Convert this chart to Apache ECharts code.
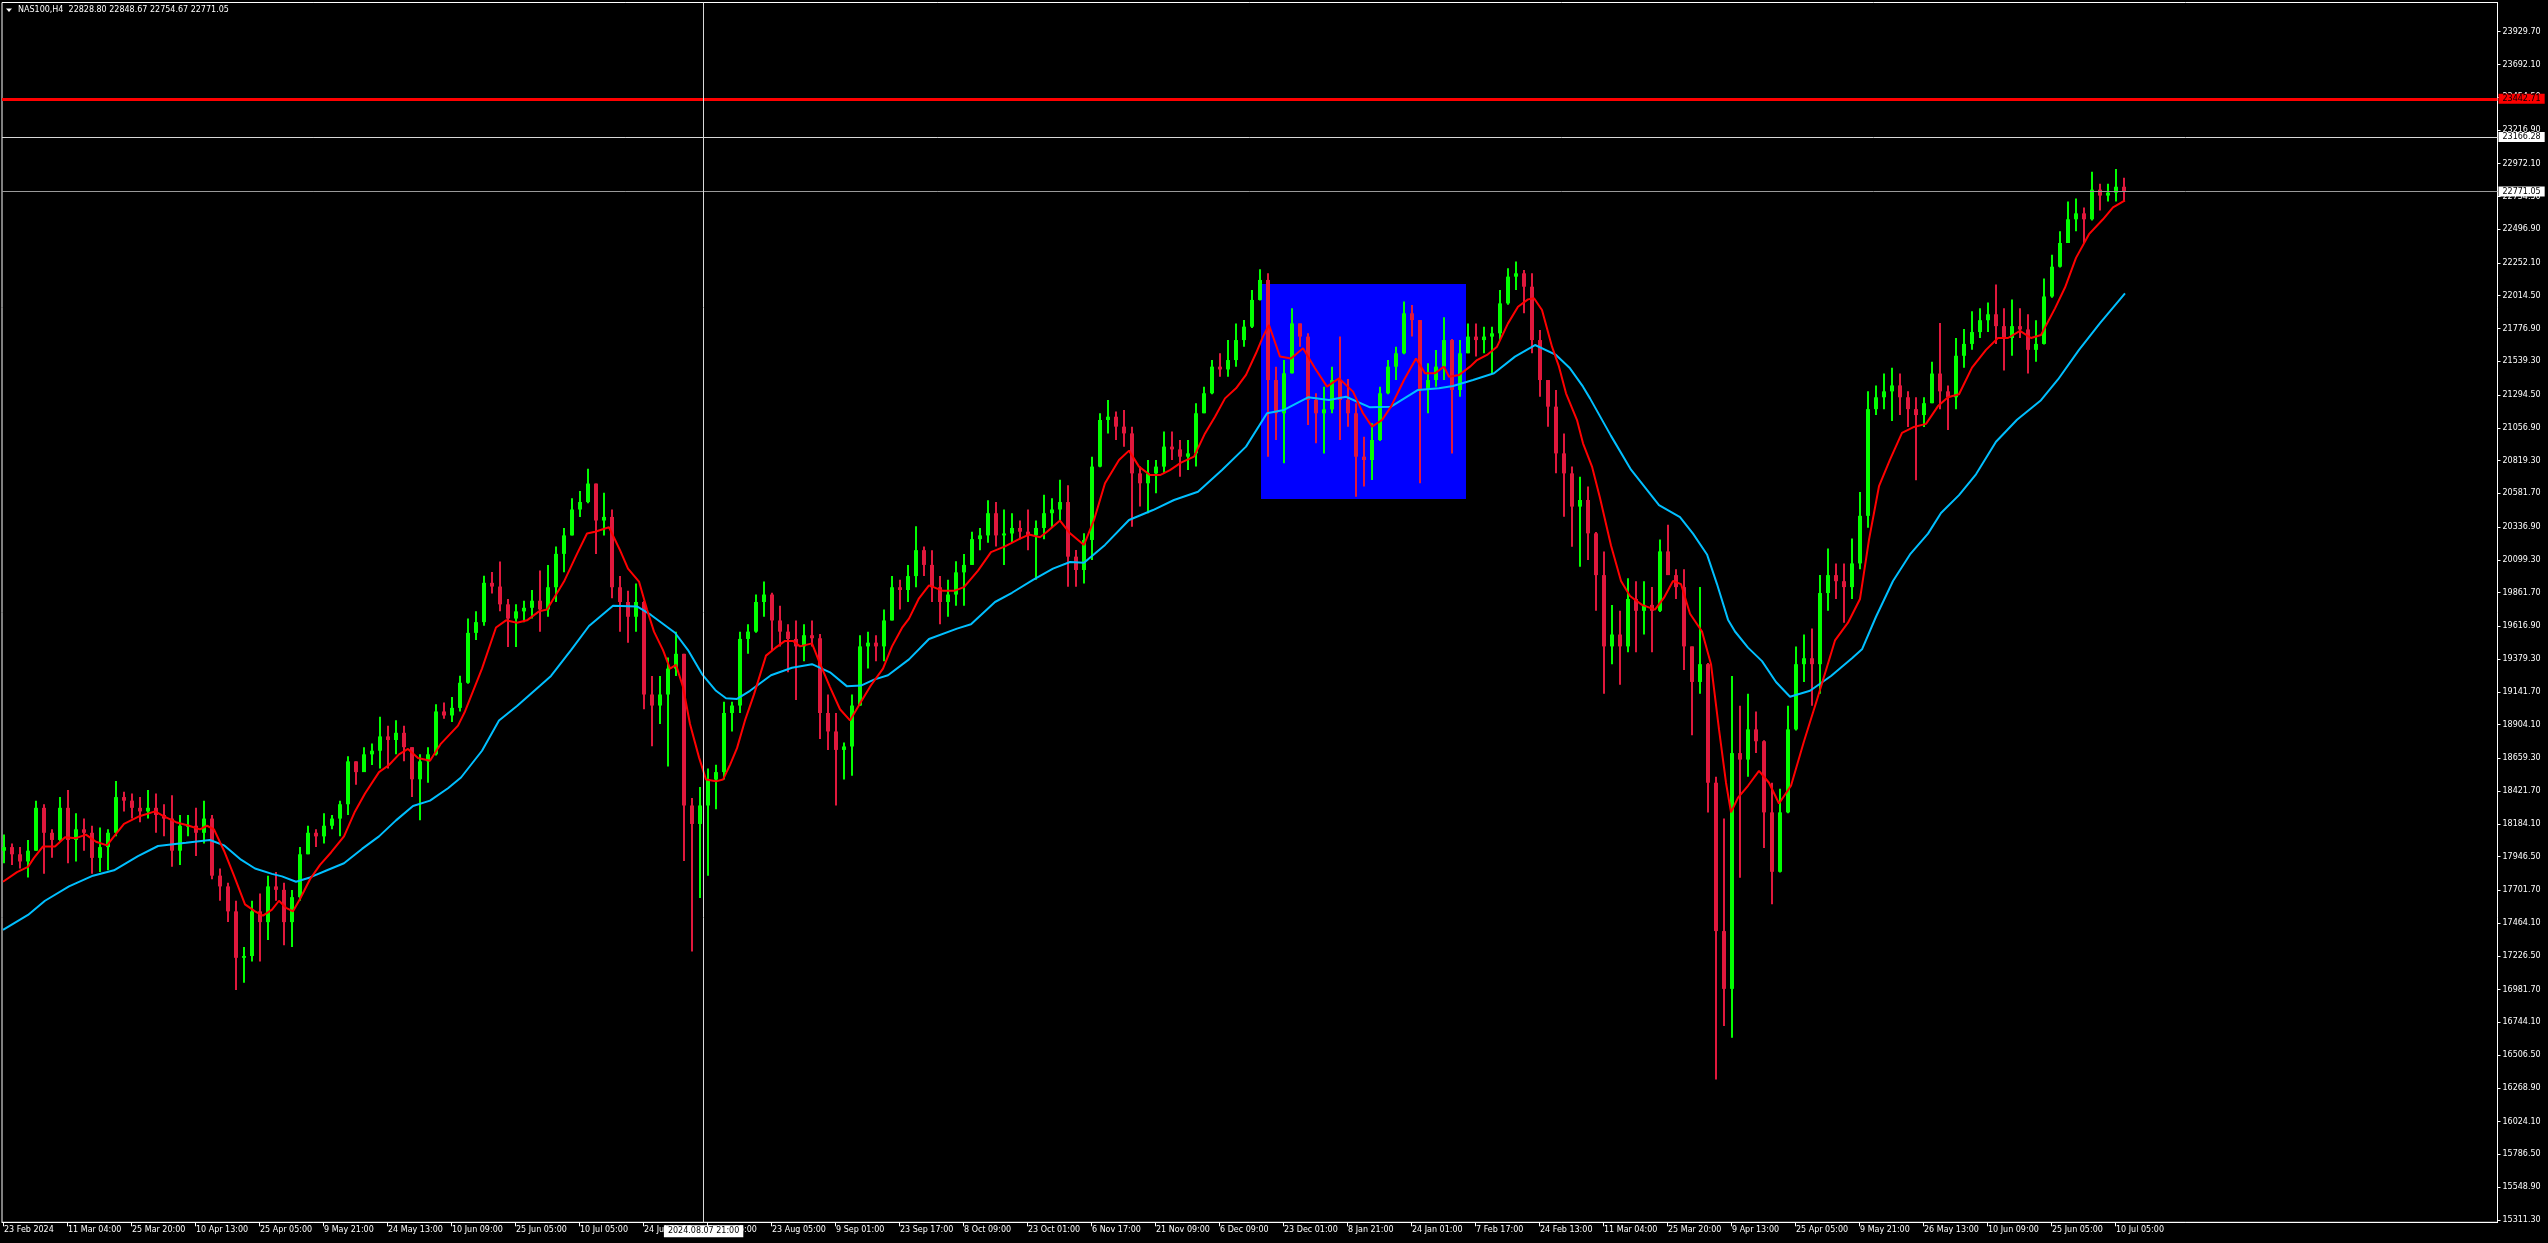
<!DOCTYPE html>
<html><head><meta charset="utf-8">
<script src="https://cdn.jsdelivr.net/npm/echarts@6/dist/echarts.min.js"></script>
<style>html,body{margin:0;padding:0;background:#000;}#chart{width:2548px;height:1243px;}</style>
</head><body><div id="chart"></div>
<script>
// ---------------- DATA ----------------
const symbolTitle = 'NAS100,H4  22828.80 22848.67 22754.67 22771.05';
const barsPerCandle = 8;   // each drawn candle groups 8 H4 bars
const firstBar = 0;

const opens = [
17989,18015,17963,17911,17989,18300,18119,18067,18300,18067,
18144,18119,17937,18015,18119,18378,18352,18300,18274,18300,
18248,18222,17989,18170,18170,18119,18222,17808,17730,17549,
17212,17225,17549,17471,17730,17705,17471,17652,17963,18119,
18093,18170,18222,18326,18637,18559,18688,18714,18818,18792,
18844,18740,18507,18637,18688,18999,18970,19025,19207,19569,
19647,19932,19905,19776,19673,19725,19751,19802,19739,19900,
20142,20276,20464,20518,20652,20384,20410,19900,19793,19686,
19793,19122,19042,19122,19310,19417,18317,18183,18317,18505,
18559,18988,19042,19525,19578,19793,19847,19659,19578,19525,
19471,19552,19530,18988,18854,18720,18745,19042,19471,19498,
19471,19659,19900,19880,19981,20169,20062,19900,19793,19847,
20008,20062,20249,20276,20437,20276,20290,20330,20303,20276,
20330,20437,20464,20518,20122,20025,20243,20775,21113,21137,
21065,21016,20726,20654,20726,20775,20920,20900,20847,20871,
21162,21307,21500,21480,21548,21693,21790,21984,22129,21403,
21162,21452,21814,21718,21258,21162,21190,21403,21258,21162,
20847,20823,20968,21307,21500,21597,21887,21838,21331,21403,
21500,21693,21331,21597,21718,21693,21718,21742,21959,22153,
22177,22080,21693,21403,21210,20871,20726,20485,20533,20291,
19988,19471,19557,19471,19815,19729,19772,19729,20160,19988,
19901,19471,19213,19342,18482,17406,16987,18697,18650,18869,
18783,18267,17836,18267,18869,19342,19385,19342,19858,19988,
19944,19901,20073,20418,21192,21278,21321,21364,21278,21192,
21149,21235,21450,21321,21278,21579,21665,21751,21837,21880,
21794,21708,21794,21770,21622,21665,22009,22225,22397,22569,
22612,22569,22784,22741,22762,22805];

const highs = [
18106,18041,18015,18067,18352,18326,18144,18378,18429,18261,
18222,18170,18157,18144,18494,18417,18404,18378,18429,18404,
18326,18391,18248,18248,18300,18352,18248,17860,17756,17626,
17290,17626,17678,17808,17834,17756,17704,18015,18170,18144,
18261,18248,18352,18675,18637,18740,18766,18960,18896,18935,
18896,18740,18688,18740,19051,19064,19103,19258,19673,19725,
19984,20010,20087,19815,19776,19802,19880,20021,20062,20196,
20330,20545,20598,20759,20652,20585,20464,19981,19874,19927,
19800,19257,19257,19391,19578,19417,18371,18451,18586,18612,
19069,19069,19578,19632,19847,19941,19860,19766,19632,19659,
19632,19659,19560,19122,18988,18773,19122,19552,19578,19552,
19739,19981,19954,20062,20343,20196,20169,19981,19954,20088,
20142,20303,20330,20531,20518,20464,20437,20384,20464,20384,
20571,20545,20679,20640,20170,20291,20847,21162,21258,21174,
21186,21065,20775,20823,20823,21029,21029,20968,20968,21234,
21355,21548,21597,21693,21814,21838,22056,22206,22177,21500,
21548,21923,21814,21742,21307,21355,21500,21718,21410,21234,
20992,21089,21355,21548,21645,21972,21947,21838,21524,21621,
21858,21700,21693,21814,21814,21790,21790,22056,22213,22262,
22201,22177,21766,21403,21331,21016,20775,20702,20630,20300,
20160,19772,19729,19966,19944,19944,19901,20246,20353,20030,
20030,19471,19901,19350,18525,18223,19256,19041,19127,18998,
18790,18482,18439,19041,19471,19557,19600,19988,20181,20073,
20073,20254,20590,21321,21364,21450,21493,21450,21321,21278,
21278,21536,21816,21364,21708,21773,21902,21923,21966,22096,
21923,21988,21923,21880,21837,22139,22311,22483,22698,22719,
22655,22913,22827,22827,22934,22870];

const lows = [
17898,17886,17860,17795,17989,17821,17937,18060,17898,17911,
17989,17821,17834,17847,18093,18274,18222,18196,18222,18119,
18093,17873,17886,18093,17950,18041,17782,17626,17471,16979,
17031,17186,17186,17342,17626,17303,17290,17626,17963,18015,
18041,18144,18093,18248,18468,18559,18611,18585,18585,18688,
18637,18378,18209,18481,18680,18947,18922,18999,19200,19517,
19621,19854,19725,19466,19466,19647,19673,19578,19686,19793,
20008,20276,20410,20510,20142,20276,19820,19578,19498,19578,
19015,18747,18908,18599,19257,17915,17257,17646,17808,18290,
18505,18854,18988,19417,19570,19686,19444,19471,19283,19082,
19364,19471,18800,18720,18317,18505,18532,19040,19310,19364,
19364,19659,19739,19793,19900,19981,19793,19632,19686,19766,
19766,20062,20169,20223,20196,20062,20223,20249,20169,19954,
20249,20330,20384,19904,19904,19928,20098,20770,21016,20968,
20920,20339,20485,20436,20581,20726,20823,20702,20750,20775,
21162,21300,21427,21427,21500,21645,21780,21980,20847,20968,
20799,21450,21645,21077,20944,20871,21162,20968,21065,20557,
20630,20678,20960,21300,21403,21590,21718,20654,21162,21355,
21403,20871,21282,21597,21573,21597,21452,21693,21950,22056,
21887,21597,21282,21065,20726,20412,20194,20049,20098,19729,
19127,19342,19192,19428,19428,19557,19428,19720,19988,19815,
19299,18826,19127,18267,16330,16718,16632,17793,18525,18697,
18008,17600,17830,18260,18860,19213,19041,19127,19729,19815,
19643,19815,20030,20332,21149,21192,21106,21149,21063,20676,
21063,21235,21192,21041,21192,21493,21622,21708,21751,21665,
21472,21579,21708,21450,21536,21660,22000,22220,22397,22483,
22397,22560,22633,22698,22698,22698];

const closes = [
18015,17963,17911,17989,18300,18119,18067,18300,18067,18144,
18119,17937,18015,18119,18378,18352,18300,18274,18300,18248,
18222,17989,18170,18170,18119,18222,17808,17730,17549,17212,
17225,17549,17471,17730,17705,17471,17652,17963,18119,18093,
18170,18222,18326,18637,18559,18688,18714,18818,18792,18844,
18740,18507,18637,18688,18999,18970,19025,19207,19569,19647,
19932,19905,19776,19673,19725,19751,19802,19739,19900,20142,
20276,20464,20518,20652,20384,20410,19900,19793,19686,19793,
19122,19042,19122,19310,19417,18317,18183,18317,18505,18559,
18988,19042,19525,19578,19793,19847,19659,19578,19525,19471,
19552,19530,18988,18854,18720,18745,19042,19471,19498,19471,
19659,19900,19880,19981,20169,20062,19900,19793,19847,20008,
20062,20249,20276,20437,20276,20290,20330,20303,20276,20330,
20437,20464,20518,20122,20025,20243,20775,21113,21137,21065,
21016,20726,20654,20726,20775,20920,20900,20847,20871,21162,
21307,21500,21480,21548,21693,21790,21984,22129,21403,21162,
21452,21814,21718,21258,21162,21190,21403,21258,21162,20847,
20823,20968,21307,21500,21597,21887,21838,21331,21403,21500,
21693,21331,21597,21718,21693,21718,21742,21959,22153,22177,
22080,21693,21403,21210,20871,20726,20485,20533,20291,19988,
19471,19557,19471,19815,19729,19772,19729,20160,19988,19901,
19471,19213,19342,18482,17406,16987,18697,18650,18869,18783,
18267,17836,18267,18869,19342,19385,19342,19858,19988,19944,
19901,20073,20418,21192,21278,21321,21364,21278,21192,21149,
21235,21450,21321,21278,21579,21665,21751,21837,21880,21794,
21708,21794,21770,21622,21665,22009,22225,22397,22569,22612,
22569,22784,22741,22762,22805,22771.05];

// fast (red) moving average
const fastMaBars = [3,17,28,34,43,55,65,76,86,96,107,114,124,138,155,165,176,189,200,207,214,224,234,245,255,263,272,279,286,293,300,310,320,331,344,355,365,379,389,399,408,418,430,441,458,465,482,496,506,517,527,539,
547,564,577,587,595,609,620,628,639,647,654,663,670,676,683,690,699,706,716,723,730,737,745,754,766,775,785,793,800,812,819,830,840,850,861,871,883,892,902,909,919,929,943,954,964,978,991,1005,1019,1029,1040,1047,1060,
1070,1084,1094,1105,1119,1129,1139,1150,1160,1170,1181,1194,1205,1215,1225,1236,1246,1256,1263,1269,1280,1291,1303,1315,1327,1339,1353,1363,1372,1382,1391,1404,1416,1425,1435,1444,1449,1459,1470,1477,1487,1497,1508,1518,1528,1534,1542,1552,1559,1566,1577,1583,1592,
1600,1611,1621,1630,1642,1655,1664,1673,1681,1690,1702,1711,1719,1726,1731,1738,1748,1759,1769,1779,1791,1804,1817,1835,1848,1860,1869,1879,1890,1902,1914,1926,1938,1948,1959,1972,1986,1998,2008,2020,2031,2041,2055,2065,2076,2089,2103,2113,2125];
const fastMaValues = [17764,17834,17872,17937,18020,18020,18087,18080,18106,18054,18028,18093,18183,18235,18274,18235,18196,18170,18144,18170,18144,17989,17808,17600,17549,17518,17562,17626,17575,17549,17639,17782,17886,17976,18093,18274,18404,18559,18611,18688,18727,18662,18642,18766,18896,18999,19310,19608,19660,19642,19660,19725,
19739,19941,20142,20290,20303,20335,20169,20035,19941,19739,19578,19444,19310,19337,19176,18908,18666,18505,18492,18505,18612,18733,18934,19123,19404,19458,19511,19511,19471,19493,19364,19176,19015,18934,19069,19189,19310,19471,19605,19672,19820,19914,19874,19874,19901,20021,20155,20196,20249,20282,20263,20303,20384,
20291,20207,20388,20654,20823,20891,20775,20714,20714,20750,20804,20847,21016,21137,21270,21343,21440,21597,21718,21802,21573,21560,21633,21488,21355,21415,21319,21162,21065,21113,21210,21403,21560,21452,21452,21500,21427,21440,21500,21548,21585,21645,21814,21935,21988,21996,21911,21645,21500,21307,21113,20944,20775,
20547,20203,19945,19837,19772,19738,19824,19945,19923,19708,19579,19342,18869,18482,18267,18374,18460,18568,18482,18331,18460,18783,19084,19514,19643,19815,20245,20633,20826,21020,21063,21085,21214,21278,21300,21493,21622,21708,21708,21760,21708,21730,21923,22074,22289,22461,22569,22655,22706];

// slow (blue) moving average
const slowMaBars = [3,28,45,69,93,114,138,158,186,210,224,241,255,272,282,296,310,327,344,362,379,396,413,430,448,461,482,499,517,540,551,571,589,613,637,651,675,688,702,716,726,737,750,771,792,812,830,847,861,874,888,909,929,957,971,995,1012,1033,1053,1070,1084,1105,1129,1153,1174,1198,1222,1246,1267,1284,1308,1329,1346,1370,1391,1418,1439,1453,1473,1494,1515,1535,1556,1570,1583,1590,1611,1631,1659,1680,1693,1707,1717,1728,1735,1748,1762,1776,1790,1810,1831,1852,1862,1876,1893,1910,1928,1941,1959,1976,1996,2017,2041,2058,2079,2100,2125];
const slowMaValues = [17414,17523,17626,17730,17808,17847,17950,18023,18046,18067,18028,17924,17860,17821,17803,17764,17795,17847,17898,18002,18093,18209,18313,18352,18442,18520,18714,18934,19038,19186,19257,19444,19619,19766,19761,19699,19570,19444,19270,19149,19095,19090,19149,19262,19316,19342,19283,19181,19187,19230,19262,19377,19525,19600,19632,19793,19860,19954,20035,20083,20078,20207,20388,20460,20533,20593,20750,20920,21162,21186,21278,21258,21282,21205,21210,21331,21343,21360,21403,21452,21573,21657,21585,21488,21355,21270,20998,20753,20495,20409,20289,20138,19923,19665,19579,19462,19364,19213,19106,19149,19256,19385,19450,19686,19945,20138,20289,20439,20568,20719,20955,21115,21257,21407,21622,21816,22031];

// axis ticks as printed by the terminal
const dateTickBars = [3,67,131,195,259,323,387,451,515,579,643,707,771,835,899,963,1027,1091,1155,1219,1283,1347,1411,1475,1539,1603,1667,1731,1795,1859,1923,1987,2051,2115];
const dateTickLabels = ['23 Feb 2024','11 Mar 04:00','25 Mar 20:00','10 Apr 13:00','25 Apr 05:00','9 May 21:00','24 May 13:00','10 Jun 09:00','25 Jun 05:00','10 Jul 05:00','24 Jul 21:00','8 Aug 05:00','23 Aug 05:00','9 Sep 01:00','23 Sep 17:00','8 Oct 09:00','23 Oct 01:00','6 Nov 17:00','21 Nov 09:00','6 Dec 09:00','23 Dec 01:00','8 Jan 21:00','24 Jan 01:00','7 Feb 17:00','24 Feb 13:00','11 Mar 04:00','25 Mar 20:00','9 Apr 13:00','25 Apr 05:00','9 May 21:00','26 May 13:00','10 Jun 09:00','25 Jun 05:00','10 Jul 05:00'];
const priceTicks = [23929.70,23692.10,23454.50,23216.90,22972.10,22734.50,22496.90,22252.10,22014.50,21776.90,21539.30,21294.50,21056.90,20819.30,20581.70,20336.90,20099.30,19861.70,19616.90,19379.30,19141.70,18904.10,18659.30,18421.70,18184.10,17946.50,17701.70,17464.10,17226.50,16981.70,16744.10,16506.50,16268.90,16024.10,15786.50,15548.90,15311.30];

// chart objects
const resistanceLevel = 23442.71;
const crosshairPrice = 23166.28;
const crosshairBar = 703.6;
const crosshairLabel = '2024.08.07 21:00';
const bidPrice = 22771.05;
const zoneBars = [1261, 1466];
const zonePrices = [20540, 22100];

// ---------------- CHART ----------------
const FONT = 'DejaVu Sans';
const bull = '#00ff00', bear = '#e0183c';
const candles = closes.map((c, i) => [firstBar + i * barsPerCandle + barsPerCandle / 2, opens[i], c, lows[i], highs[i]]);

const chart = echarts.init(document.getElementById('chart'), null, {renderer: 'canvas', width: 2548, height: 1243});

function renderCandle(params, api) {
  const x = api.value(0), o = api.value(1), c = api.value(2), l = api.value(3), h = api.value(4);
  const pO = api.coord([x, o]), pC = api.coord([x, c]), pL = api.coord([x, l]), pH = api.coord([x, h]);
  const color = c >= o ? bull : bear;
  const cx = Math.round(pO[0]);
  const bw = 4, ww = 2;
  const top = Math.min(pO[1], pC[1]);
  return {
    type: 'group',
    children: [
      {type: 'rect', shape: {x: cx - ww / 2, y: pH[1], width: ww, height: Math.max(1, pL[1] - pH[1])}, style: {fill: color}},
      {type: 'rect', shape: {x: cx - bw / 2, y: top, width: bw, height: Math.max(1, Math.abs(pO[1] - pC[1]))}, style: {fill: color}}
    ]
  };
}

function renderZone(params, api) {
  const a = api.coord([api.value(0), api.value(3)]);
  const b = api.coord([api.value(1), api.value(2)]);
  return {type: 'rect', shape: {x: a[0], y: a[1], width: b[0] - a[0], height: b[1] - a[1]}, style: {fill: '#0000ff'}};
}

const tagLabel = (bg, txt) => ({
  show: true, position: 'end', distance: 1, formatter: txt,
  backgroundColor: bg, color: '#000', padding: [1, 4, 1, 4],
  fontFamily: FONT, fontSize: 8
});

const option = {
  backgroundColor: '#000000',
  animation: false,
  grid: {left: 2, right: 50.5, top: 2.5, bottom: 20.7, show: true, borderColor: '#ffffff', borderWidth: 1, backgroundColor: 'transparent'},
  xAxis: {
    type: 'value', min: 2, max: 2497.5,
    axisLine: {show: true, lineStyle: {color: '#ffffff', width: 1}},
    axisTick: {show: true, customValues: dateTickBars, length: 4, lineStyle: {color: '#ffffff'}},
    axisLabel: {
      customValues: dateTickBars, color: '#ffffff', fontFamily: FONT, fontSize: 8, margin: 4, align: 'left',
      padding: [0, 0, 0, 1],
      formatter: v => { const k = dateTickBars.indexOf(v); return k >= 0 ? dateTickLabels[k] : ''; }
    },
    splitLine: {show: false}
  },
  yAxis: {
    type: 'value', position: 'right', min: 15293.6, max: 24141.5, scale: true,
    axisLine: {show: true, lineStyle: {color: '#ffffff', width: 1}},
    axisTick: {show: true, customValues: priceTicks, length: 3, lineStyle: {color: '#ffffff'}},
    axisLabel: {customValues: priceTicks, color: '#ffffff', fontFamily: FONT, fontSize: 8, margin: 5,
      formatter: v => v.toFixed(2)},
    splitLine: {show: false}
  },
  graphic: [
    {type: 'polygon', shape: {points: [[6, 8.5], [12, 8.5], [9, 12]]}, style: {fill: '#ffffff'}, z: 100},
    {type: 'text', left: 18, top: 6, style: {text: symbolTitle, fill: '#ffffff', font: '8px "DejaVu Sans"'}, z: 100}
  ],
  series: [
    {type: 'custom', name: 'zone', renderItem: renderZone, data: [[zoneBars[0], zoneBars[1], zonePrices[0], zonePrices[1]]],
      encode: {x: [0, 1], y: [2, 3]}, z: 1, silent: true},
    {type: 'custom', name: 'NAS100', renderItem: renderCandle, data: candles,
      encode: {x: 0, y: [1, 2, 3, 4]}, z: 2, silent: true},
    {type: 'line', name: 'slowMA', data: slowMaBars.map((b, i) => [b, slowMaValues[i]]), showSymbol: false,
      lineStyle: {color: '#00bfff', width: 2}, z: 3, silent: true},
    {type: 'line', name: 'fastMA', data: fastMaBars.map((b, i) => [b, fastMaValues[i]]), showSymbol: false,
      lineStyle: {color: '#ff0000', width: 2}, z: 4, silent: true,
      markLine: {
        silent: true, symbol: ['none', 'none'], animation: false,
        data: [
          {yAxis: bidPrice, lineStyle: {color: '#9a9a9a', width: 1, type: 'solid'}, label: tagLabel('#ffffff', bidPrice.toFixed(2))},
          {yAxis: crosshairPrice, lineStyle: {color: '#d8d8d8', width: 1, type: 'solid'}, label: tagLabel('#ffffff', crosshairPrice.toFixed(2))},
          {yAxis: resistanceLevel, lineStyle: {color: '#ff0000', width: 3, type: 'solid'}, label: tagLabel('#ff0000', resistanceLevel.toFixed(2))},
          {xAxis: crosshairBar, lineStyle: {color: '#d8d8d8', width: 1, type: 'solid'},
            label: {show: true, position: 'start', distance: 3, formatter: crosshairLabel, backgroundColor: '#ffffff', color: '#000',
              padding: [2, 4, 2, 4], fontFamily: FONT, fontSize: 8}}
        ]
      }}
  ]
};
chart.setOption(option);
</script>
</body></html>
